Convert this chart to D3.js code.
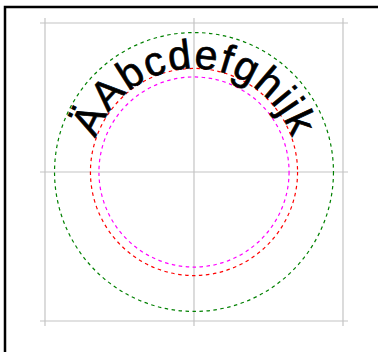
<!DOCTYPE html>
<html><head><meta charset="utf-8">
<script src="https://cdn.jsdelivr.net/npm/d3@7"></script>
<style>html,body{margin:0;padding:0;background:#fff;overflow:hidden}</style>
</head><body>
<script>
const gridTicks = [-1, 0, 1];
const circleNames = ["outer", "path", "inner"];
const circleRadii = [0.936, 0.695, 0.638];
const circleColors = ["#008000", "#ff0000", "#ff00ff"];
const labelText = ["ÄAbcdefghijk"];

const W = 378, H = 352;
const svg = d3.select("body").append("svg").attr("width", W).attr("height", H);

svg.append("rect").attr("x", 5).attr("y", 7).attr("width", 420).attr("height", 420)
  .attr("fill", "none").attr("stroke", "#000").attr("stroke-width", 2.5);

const x = d3.scaleLinear().domain([-1, 1]).range([45, 343]);
const y = d3.scaleLinear().domain([-1, 1]).range([321, 23]);
const ext = 5;

const g = svg.append("g");
g.selectAll("line.v").data(gridTicks).join("line").attr("class", "v")
  .attr("x1", d => x(d)).attr("x2", d => x(d))
  .attr("y1", y(1) - ext).attr("y2", y(-1) + ext)
  .attr("stroke", "#c4c4c4").attr("stroke-width", 1.2);
g.selectAll("line.h").data(gridTicks).join("line").attr("class", "h")
  .attr("y1", d => y(d)).attr("y2", d => y(d))
  .attr("x1", x(-1) - ext).attr("x2", x(1) + ext)
  .attr("stroke", "#c4c4c4").attr("stroke-width", 1.2);

const rs = d => x(d) - x(0);
const cx = x(0), cy = y(0);

g.selectAll("circle").data(circleRadii).join("circle")
  .attr("cx", cx).attr("cy", cy).attr("r", d => rs(d))
  .attr("fill", "none").attr("stroke", (d, i) => circleColors[i])
  .attr("stroke-width", 1.2).attr("stroke-dasharray", "3.5,3.5");

const r = rs(circleRadii[1]);
const pathD = `M${cx},${cy + r} A${r},${r} 0 0 1 ${cx},${cy - r} A${r},${r} 0 0 1 ${cx},${cy + r}`;
svg.append("defs").append("path").attr("id", "tp").attr("d", pathD);

svg.append("text").attr("font-family", "Liberation Sans, Arial, sans-serif")
  .attr("font-size", 41).attr("letter-spacing", 1.5).attr("fill", "#000")
  .attr("stroke", "#000").attr("stroke-width", 0.7)
  .append("textPath").attr("href", "#tp").attr("startOffset", "50%")
  .attr("text-anchor", "middle").text(labelText[0]);
</script>
</body></html>
